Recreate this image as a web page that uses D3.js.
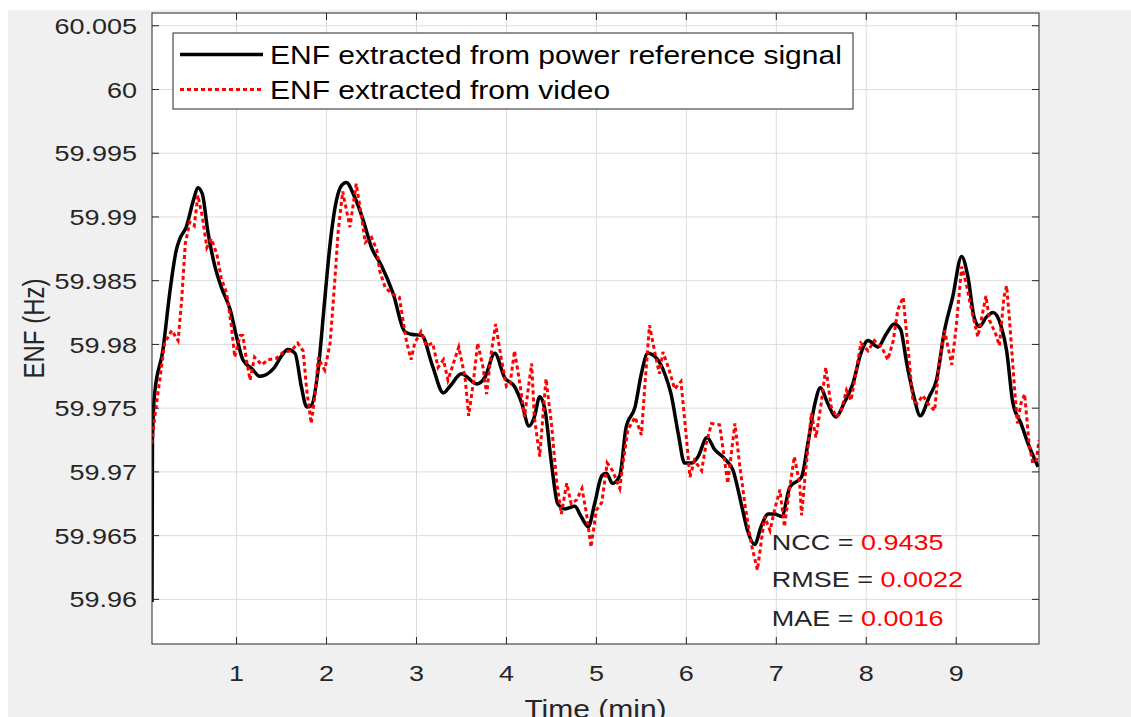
<!DOCTYPE html>
<html>
<head>
<meta charset="utf-8">
<script src="https://cdn.jsdelivr.net/npm/d3@7"></script>
<style>
  html, body { margin: 0; padding: 0; background: #ffffff; }
  svg { display: block; font-family: "Liberation Sans", Arial, Helvetica, sans-serif; }
</style>
</head>
<body>
<div id="chart"></div>
<script>
// time (min) / ENF (Hz)
const refTime = [0.06, 0.065, 0.09, 0.18, 0.26, 0.33, 0.37, 0.44, 0.52, 0.57, 0.62, 0.68, 0.76, 0.83, 0.93,
  1.00, 1.07, 1.17, 1.26, 1.41, 1.50, 1.57, 1.65, 1.72, 1.78, 1.83, 1.91, 1.98, 2.04, 2.11, 2.17, 2.22,
  2.31, 2.41, 2.50, 2.61, 2.74, 2.87, 2.94, 3.06, 3.17, 3.30, 3.37, 3.50, 3.67, 3.76, 3.87, 3.98, 4.09,
  4.17, 4.25, 4.31, 4.37, 4.43, 4.50, 4.57, 4.65, 4.76, 4.83, 4.91, 4.98, 5.06, 5.11, 5.18, 5.26, 5.33,
  5.43, 5.50, 5.57, 5.67, 5.76, 5.83, 5.91, 5.98, 6.06, 6.13, 6.23, 6.31, 6.43, 6.52, 6.61, 6.68, 6.76,
  6.83, 6.91, 6.98, 7.06, 7.15, 7.28, 7.35, 7.43, 7.49, 7.57, 7.66, 7.76, 7.85, 7.94, 8.02, 8.13, 8.22,
  8.31, 8.38, 8.45, 8.52, 8.60, 8.70, 8.78, 8.87, 8.96, 9.06, 9.13, 9.20, 9.26, 9.33, 9.41, 9.50, 9.56,
  9.63, 9.72, 9.80, 9.91];
const refEnf = [59.9598, 59.9725, 59.9762, 59.9795, 59.9842, 59.9874, 59.9883, 59.9892, 59.9913, 59.9923,
  59.9918, 59.9889, 59.9861, 59.9845, 59.9827, 59.9806, 59.9788, 59.9781, 59.9775, 59.9781, 59.9791,
  59.9796, 59.9793, 59.9767, 59.9751, 59.9752, 59.9782, 59.9835, 59.9879, 59.9913, 59.9925, 59.9927,
  59.9916, 59.9897, 59.9876, 59.9862, 59.9840, 59.9810, 59.9808, 59.9807, 59.9785, 59.9762, 59.9767,
  59.9777, 59.9769, 59.9774, 59.9793, 59.9774, 59.9767, 59.9754, 59.9736, 59.9743, 59.9759, 59.9748,
  59.9707, 59.9675, 59.9671, 59.9673, 59.9665, 59.9657, 59.9675, 59.9697, 59.9699, 59.9691, 59.9697,
  59.9735, 59.9751, 59.9777, 59.9793, 59.9789, 59.9777, 59.9761, 59.9730, 59.9707, 59.9707, 59.9712,
  59.9727, 59.9718, 59.9710, 59.9701, 59.9675, 59.9654, 59.9643, 59.9657, 59.9667, 59.9667, 59.9665,
  59.9688, 59.9696, 59.9722, 59.9754, 59.9766, 59.9754, 59.9743, 59.9755, 59.9769, 59.9793, 59.9803,
  59.9798, 59.9808, 59.9816, 59.9812, 59.9785, 59.9762, 59.9744, 59.9759, 59.9772, 59.9811, 59.9837,
  59.9869, 59.9853, 59.9821, 59.9814, 59.9821, 59.9825, 59.9814, 59.9795, 59.9754, 59.9738, 59.9722,
  59.9704];

const vidTime = [0.06, 0.09, 0.15, 0.20, 0.28, 0.35, 0.39, 0.43, 0.48, 0.53, 0.57, 0.62, 0.67, 0.72, 0.78,
  0.83, 0.89, 0.94, 0.98, 1.04, 1.07, 1.11, 1.15, 1.20, 1.28, 1.35, 1.44, 1.52, 1.61, 1.68, 1.74, 1.78,
  1.83, 1.87, 1.91, 1.94, 1.98, 2.04, 2.09, 2.13, 2.18, 2.26, 2.33, 2.39, 2.43, 2.50, 2.56, 2.59, 2.65,
  2.72, 2.81, 2.85, 2.89, 2.94, 2.98, 3.05, 3.11, 3.18, 3.24, 3.30, 3.35, 3.41, 3.47, 3.54, 3.58, 3.63,
  3.68, 3.74, 3.78, 3.83, 3.88, 3.94, 4.00, 4.04, 4.09, 4.15, 4.20, 4.28, 4.31, 4.37, 4.41, 4.44, 4.50,
  4.56, 4.61, 4.67, 4.72, 4.78, 4.84, 4.89, 4.94, 5.00, 5.06, 5.12, 5.18, 5.26, 5.30, 5.35, 5.43, 5.50,
  5.54, 5.59, 5.66, 5.70, 5.74, 5.80, 5.87, 5.94, 6.00, 6.04, 6.09, 6.17, 6.22, 6.28, 6.37, 6.46, 6.54,
  6.59, 6.65, 6.72, 6.79, 6.83, 6.87, 6.93, 6.98, 7.04, 7.09, 7.15, 7.20, 7.26, 7.28, 7.33, 7.39, 7.44,
  7.50, 7.55, 7.61, 7.67, 7.72, 7.78, 7.83, 7.89, 7.94, 8.02, 8.09, 8.17, 8.24, 8.30, 8.35, 8.41, 8.46,
  8.52, 8.57, 8.63, 8.68, 8.76, 8.81, 8.87, 8.95, 9.00, 9.06, 9.11, 9.17, 9.24, 9.30, 9.33, 9.37, 9.44,
  9.48, 9.53, 9.56, 9.59, 9.65, 9.68, 9.72, 9.76, 9.81, 9.85, 9.89, 9.92];
const vidEnf = [59.9722, 59.9743, 59.9774, 59.9801, 59.9811, 59.9803, 59.9835, 59.9879, 59.9896, 59.9893,
  59.9917, 59.9900, 59.9876, 59.9883, 59.9871, 59.9852, 59.9840, 59.9816, 59.9790, 59.9807, 59.9807,
  59.9788, 59.9772, 59.9790, 59.9784, 59.9788, 59.9789, 59.9794, 59.9795, 59.9801, 59.9795, 59.9764,
  59.9738, 59.9759, 59.9790, 59.9785, 59.9780, 59.9801, 59.9848, 59.9889, 59.9920, 59.9892, 59.9926,
  59.9900, 59.9880, 59.9884, 59.9874, 59.9858, 59.9845, 59.9840, 59.9837, 59.9819, 59.9802, 59.9788,
  59.9801, 59.9810, 59.9799, 59.9801, 59.9782, 59.9788, 59.9772, 59.9785, 59.9798, 59.9774, 59.9744,
  59.9769, 59.9801, 59.9782, 59.9761, 59.9793, 59.9816, 59.9790, 59.9767, 59.9769, 59.9795, 59.9769,
  59.9743, 59.9785, 59.9743, 59.9712, 59.9748, 59.9773, 59.9738, 59.9691, 59.9667, 59.9691, 59.9675,
  59.9678, 59.9687, 59.9667, 59.9641, 59.9670, 59.9676, 59.9707, 59.9701, 59.9687, 59.9709, 59.9733,
  59.9743, 59.9729, 59.9769, 59.9815, 59.9790, 59.9777, 59.9794, 59.9782, 59.9765, 59.9771, 59.9727,
  59.9696, 59.9709, 59.9701, 59.9722, 59.9738, 59.9737, 59.9691, 59.9738, 59.9707, 59.9675, 59.9644,
  59.9623, 59.9644, 59.9665, 59.9654, 59.9670, 59.9686, 59.9657, 59.9688, 59.9712, 59.9691, 59.9666,
  59.9704, 59.9746, 59.9727, 59.9754, 59.9782, 59.9751, 59.9743, 59.9748, 59.9764, 59.9756, 59.9780,
  59.9801, 59.9795, 59.9803, 59.9798, 59.9788, 59.9803, 59.9827, 59.9837, 59.9800, 59.9755, 59.9754,
  59.9760, 59.9754, 59.9748, 59.9785, 59.9811, 59.9784, 59.9814, 59.9861, 59.9848, 59.9827, 59.9806,
  59.9827, 59.9838, 59.9819, 59.9808, 59.9799, 59.9837, 59.9846, 59.9821, 59.9764, 59.9738, 59.9754,
  59.9761, 59.9722, 59.9707, 59.9709, 59.9725];

const xTicks = [1, 2, 3, 4, 5, 6, 7, 8, 9];
const yTicks = [59.96, 59.965, 59.97, 59.975, 59.98, 59.985, 59.99, 59.995, 60, 60.005];
const seriesNames = ['ENF extracted from power reference signal', 'ENF extracted from video'];
const statNames = ['NCC', 'RMSE', 'MAE'];
const statValues = ['0.9435', '0.0022', '0.0016'];

const W = 1131, H = 717;
const margin = { left: 152, top: 13, right: 92, bottom: 73 };
const width = W - margin.left - margin.right;
const height = H - margin.top - margin.bottom;
const SX = 1.2; // the figure is stretched horizontally
const axisColor = '#262626';
const font = '"Liberation Sans", Arial, Helvetica, sans-serif';

const svg = d3.select('#chart').append('svg')
    .attr('width', W)
    .attr('height', H);

// figure background (white strip top/left like the screenshot)
svg.append('rect').attr('width', W).attr('height', H).attr('fill', '#ffffff');
svg.append('rect').attr('x', 8).attr('y', 10).attr('width', W - 8).attr('height', H - 10).attr('fill', '#f0f0f0');

const xScale = d3.scaleLinear().domain([0.06, 9.92]).range([0, width]);
const yScale = d3.scaleLinear().domain([59.9565, 60.006]).range([height, 0]);

const g = svg.append('g')
    .attr('transform', `translate(${margin.left},${margin.top})`);

g.append('rect')
    .attr('width', width)
    .attr('height', height)
    .attr('fill', '#ffffff');

svg.append('defs').append('clipPath').attr('id', 'plotClip')
  .append('rect').attr('width', width).attr('height', height);

// grid
g.append('g').selectAll('line.gx')
    .data(xTicks).enter().append('line')
    .attr('x1', d => xScale(d)).attr('x2', d => xScale(d))
    .attr('y1', 0).attr('y2', height)
    .attr('stroke', '#dcdcdc').attr('stroke-width', 1);

g.append('g').selectAll('line.gy')
    .data(yTicks).enter().append('line')
    .attr('x1', 0).attr('x2', width)
    .attr('y1', d => yScale(d)).attr('y2', d => yScale(d))
    .attr('stroke', '#dcdcdc').attr('stroke-width', 1);

// data
const refData = refTime.map((t, i) => [t, refEnf[i]]);
const vidData = vidTime.map((t, i) => [t, vidEnf[i]]);

const lines = g.append('g').attr('clip-path', 'url(#plotClip)');

lines.append('path')
    .datum(refData)
    .attr('fill', 'none')
    .attr('stroke', '#000000')
    .attr('stroke-width', 3.5)
    .attr('stroke-linejoin', 'round')
    .attr('d', d3.line().x(d => xScale(d[0])).y(d => yScale(d[1])).curve(d3.curveMonotoneX));

lines.append('path')
    .datum(vidData)
    .attr('fill', 'none')
    .attr('stroke', '#ff0000')
    .attr('stroke-width', 3)
    .attr('stroke-dasharray', '4,3')
    .attr('d', d3.line().x(d => xScale(d[0])).y(d => yScale(d[1])));

// axes: box with inward ticks on all sides
const tickLen = 7;
g.append('rect')
    .attr('width', width).attr('height', height)
    .attr('fill', 'none').attr('stroke', axisColor).attr('stroke-width', 1);

const ticks = g.append('g').attr('stroke', axisColor).attr('stroke-width', 1);
xTicks.forEach(d => {
    ticks.append('line').attr('x1', xScale(d)).attr('x2', xScale(d)).attr('y1', height).attr('y2', height - tickLen);
    ticks.append('line').attr('x1', xScale(d)).attr('x2', xScale(d)).attr('y1', 0).attr('y2', tickLen);
});
yTicks.forEach(d => {
    ticks.append('line').attr('x1', 0).attr('x2', tickLen).attr('y1', yScale(d)).attr('y2', yScale(d));
    ticks.append('line').attr('x1', width).attr('x2', width - tickLen).attr('y1', yScale(d)).attr('y2', yScale(d));
});

// tick labels
g.append('g').selectAll('text')
    .data(xTicks).enter().append('text')
    .attr('transform', d => `translate(${xScale(d)},${height + 37}) scale(${SX},1)`)
    .attr('text-anchor', 'middle')
    .attr('fill', axisColor)
    .style('font-size', '22.5px')
    .text(d => d);

g.append('g').selectAll('text')
    .data(yTicks).enter().append('text')
    .attr('transform', d => `translate(-15,${yScale(d)}) scale(${SX},1)`)
    .attr('dy', '0.36em')
    .attr('text-anchor', 'end')
    .attr('fill', axisColor)
    .style('font-size', '22.5px')
    .text(d => d3.format('')(d));

// axis titles
g.append('text')
    .attr('transform', `translate(${width / 2},${height + 74}) scale(${SX},1)`)
    .attr('text-anchor', 'middle')
    .attr('fill', axisColor)
    .style('font-size', '25px')
    .text('Time (min)');

g.append('text')
    .attr('transform', `translate(-108,${height / 2}) rotate(-90) scale(1,${SX})`)
    .attr('text-anchor', 'middle')
    .attr('fill', axisColor)
    .style('font-size', '24px')
    .text('ENF (Hz)');

// legend
const legend = g.append('g').attr('transform', 'translate(21,20)');
legend.append('rect')
    .attr('width', 680).attr('height', 76)
    .attr('fill', '#ffffff').attr('stroke', axisColor).attr('stroke-width', 1);

const legendStyles = [
    { stroke: '#000000', width: 3.5, dash: null },
    { stroke: '#ff0000', width: 3, dash: '4,3' }
];
seriesNames.forEach((name, i) => {
    const row = legend.append('g').attr('transform', `translate(0,${21.5 + i * 35})`);
    row.append('line')
        .attr('x1', 7).attr('x2', 90)
        .attr('stroke', legendStyles[i].stroke)
        .attr('stroke-width', legendStyles[i].width)
        .attr('stroke-dasharray', legendStyles[i].dash);
    row.append('text')
        .attr('transform', `translate(97,9.5) scale(${SX},1)`)
        .attr('fill', '#000000')
        .style('font-size', '25px')
        .text(name);
});

// statistics annotation
const statBaseY = [59.9639, 59.96095, 59.9579];
statNames.forEach((name, i) => {
    const t = g.append('text')
        .attr('transform', `translate(${xScale(6.95)},${yScale(statBaseY[i])}) scale(${SX},1)`)
        .style('font-size', '22.5px');
    t.append('tspan').attr('fill', axisColor).text(name + ' = ');
    t.append('tspan').attr('fill', '#ff0000').text(statValues[i]);
});
</script>
</body>
</html>
